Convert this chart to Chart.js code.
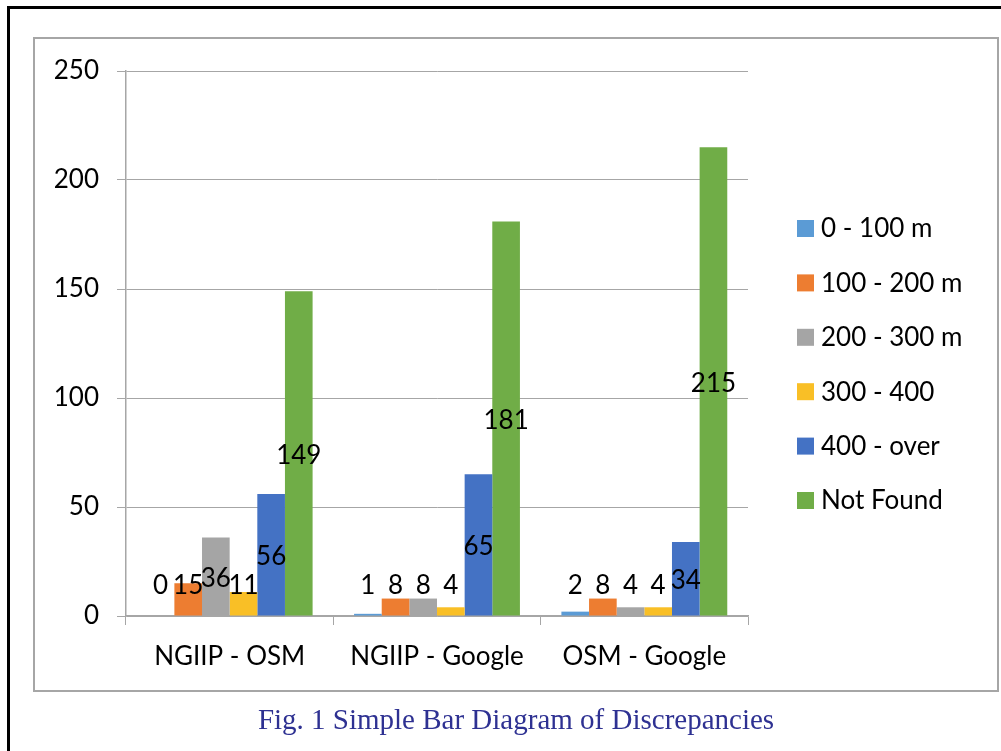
<!DOCTYPE html>
<html>
<head>
<meta charset="utf-8">
<script src="https://cdn.jsdelivr.net/npm/chart.js@4"></script>
<style>
  html, body { margin: 0; padding: 0; background: #fff; overflow: hidden; }
  body { width: 1001px; height: 751px; position: relative; }
  #outer { position: absolute; left: 7px; top: 6px; width: 1100px; height: 900px;
           border-left: 3px solid #000; border-top: 3px solid #000; }
  #frame { position: absolute; left: 33px; top: 37px; width: 962px; height: 651px;
           border: 2px solid #a6a6a6; }
  #myChart { position: absolute; left: 0; top: 0; }
  #caption { position: absolute; left: 0; width: 1032px; top: 703px; text-align: center;
             font-family: "Liberation Serif", "Times New Roman", serif; font-size: 29px;
             color: #2e3192; }
</style>
</head>
<body>
<div id="outer"></div>
<div id="frame"></div>
<canvas id="myChart" width="1001" height="751"></canvas>
<div id="caption">Fig. 1 Simple Bar Diagram of Discrepancies</div>
<script>
const categories = ['NGIIP - OSM', 'NGIIP - Google', 'OSM - Google'];
const seriesNames = ['0 - 100 m', '100 - 200 m', '200 - 300 m', '300 - 400', '400 - over', 'Not Found'];
const seriesColors = ['#5b9bd5', '#ed7d31', '#a5a5a5', '#f9bf26', '#4472c4', '#70ad47'];
const d0to100 = [0, 1, 2];
const d100to200 = [15, 8, 8];
const d200to300 = [36, 8, 4];
const d300to400 = [11, 4, 4];
const d400over = [56, 65, 34];
const notFound = [149, 181, 215];
const yTicks = [0, 50, 100, 150, 200, 250];

const seriesValues = [d0to100, d100to200, d200to300, d300to400, d400over, notFound];
const font = { family: 'Lato', size: 26 };
const gridGray = '#a6a6a6';

// value labels, roughly like Excel "center" labels pushed up when the bar is short
const valueLabels = {
    id: 'valueLabels',
    afterDatasetsDraw(chart) {
        const ctx = chart.ctx;
        ctx.save();
        ctx.font = '26px Lato';
        ctx.fillStyle = '#000';
        ctx.textAlign = 'center';
        ctx.textBaseline = 'middle';
        chart.data.datasets.forEach((ds, i) => {
            chart.getDatasetMeta(i).data.forEach((bar, j) => {
                let y = (bar.y + bar.base) / 2 + 2;
                y = Math.min(y, bar.base - 30);
                ctx.fillText(String(ds.data[j]), bar.x, y);
            });
        });
        ctx.restore();
    }
};

// legend drawn by hand so it sits where the original one is
const sideLegend = {
    id: 'sideLegend',
    afterDraw(chart) {
        const ctx = chart.ctx;
        ctx.save();
        ctx.font = '26px Lato';
        ctx.textBaseline = 'middle';
        ctx.textAlign = 'left';
        chart.data.datasets.forEach((ds, i) => {
            const y = 228 + i * 54.4;
            ctx.fillStyle = ds.backgroundColor;
            ctx.fillRect(797, y - 8, 17, 17);
            ctx.fillStyle = '#000';
            ctx.fillText(ds.label, 821, y + 1);
        });
        ctx.restore();
    }
};

const ctx = document.getElementById('myChart');
const myChart = new Chart(ctx, {
    type: 'bar',
    data: {
        labels: categories,
        datasets: seriesNames.map((name, i) => ({
            label: name,
            data: seriesValues[i],
            backgroundColor: seriesColors[i],
            borderWidth: 0,
            categoryPercentage: 0.8,
            barPercentage: 1.0
        }))
    },
    options: {
        responsive: false,
        animation: false,
        layout: { padding: { left: 30, top: 71, right: 253, bottom: 40 } },
        plugins: {
            legend: { display: false },
            tooltip: { enabled: false }
        },
        scales: {
            x: {
                grid: { drawOnChartArea: false, drawTicks: true, tickLength: 9, color: gridGray, offset: true },
                border: { display: true, color: gridGray, width: 1.5 },
                ticks: { font: font, color: '#000', padding: 16 },
                afterFit(s) { s.height = 95; }
            },
            y: {
                min: 0,
                max: 250,
                afterBuildTicks(s) { s.ticks = yTicks.map(v => ({ value: v })); },
                grid: { color: gridGray, tickLength: 9, lineWidth: 1 },
                border: { display: true, color: gridGray, width: 1.5 },
                ticks: { font: font, color: '#000', padding: 18 },
                afterFit(s) { s.width = 96; }
            }
        }
    },
    plugins: [valueLabels, sideLegend]
});
</script>
</body>
</html>
